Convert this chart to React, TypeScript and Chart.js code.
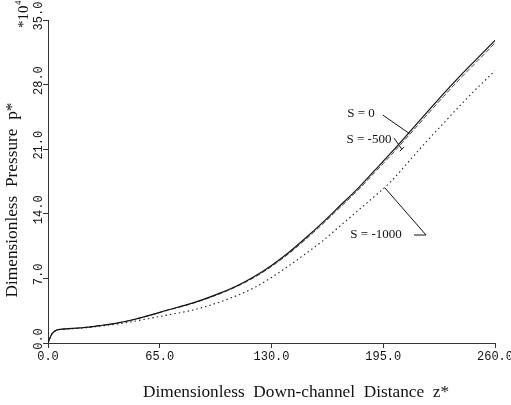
import React, { useEffect, useRef } from "react";
import { Chart, registerables } from "chart.js";
Chart.register(...registerables);

// Down-channel distance z* (x values)
const zValues = [0, 2, 4, 6, 10, 20, 30, 40, 50, 60, 70, 80, 90, 100, 110, 120, 130, 140, 150, 160, 170, 180, 190, 200, 210, 220, 230, 240, 250, 260];
// Pressure p* (x10^4) for S = 0
const pS0 = [0, 0.9, 1.3, 1.45, 1.52, 1.65, 1.88, 2.15, 2.55, 3.05, 3.6, 4.1, 4.7, 5.4, 6.2, 7.2, 8.4, 9.8, 11.4, 13.1, 14.9, 16.7, 18.7, 20.7, 22.8, 24.9, 27.0, 29.0, 30.9, 32.8];
// Pressure p* for S = -500
const pS500 = [0, 0.9, 1.3, 1.45, 1.52, 1.65, 1.88, 2.15, 2.54, 3.03, 3.57, 4.06, 4.65, 5.34, 6.13, 7.11, 8.29, 9.67, 11.25, 12.93, 14.71, 16.5, 18.47, 20.45, 22.53, 24.62, 26.7, 28.7, 30.6, 32.5];
// Pressure p* for S = -1000
const pS1000 = [0, 0.9, 1.3, 1.45, 1.5, 1.62, 1.82, 2.05, 2.35, 2.7, 3.05, 3.4, 3.85, 4.45, 5.15, 6.0, 7.1, 8.35, 9.7, 11.1, 12.7, 14.3, 15.9, 17.6, 19.7, 21.8, 23.8, 25.8, 27.7, 29.5];

const seriesLabels = ["S = 0", "S = -500", "S = -1000"];
const xTickValues = [0, 65, 130, 195, 260];
const xTickLabels = ["0.0", "65.0", "130.0", "195.0", "260.0"];
const yTickValues = [0, 7, 14, 21, 28, 35];
const yTickLabels = ["0.0", "7.0", "14.0", "21.0", "28.0", "35.0"];
const xTitle = "Dimensionless  Down-channel  Distance  z*";
const yTitle = "Dimensionless  Pressure  p*";

// annotation placement (data units)
const labelAnchors = [
  { x: 182.1, y: 24.9 },
  { x: 186.7, y: 22.0 },
  { x: 190.8, y: 11.7 },
];
const leaderLines = [
  [{ x: 194.7, y: 24.7 }, { x: 210.2, y: 22.7 }],
  [{ x: 201.3, y: 22.2 }, { x: 205.8, y: 21.0 }],
  [{ x: 196.0, y: 16.8 }, { x: 219.9, y: 11.7 }],
  [{ x: 212.9, y: 11.7 }, { x: 219.9, y: 11.7 }],
];

const textPlugin = {
  id: "textPlugin",
  afterDraw(chart: any) {
    const { ctx, scales } = chart;
    const xs = scales.x;
    const ys = scales.y;
    ctx.save();
    ctx.fillStyle = "#111";
    ctx.strokeStyle = "#111";

    // x tick labels
    ctx.font = "12px 'Liberation Mono'";
    ctx.textAlign = "center";
    ctx.textBaseline = "middle";
    xTickValues.forEach((v, i) => {
      ctx.fillText(xTickLabels[i], xs.getPixelForValue(v), 357);
    });

    // y tick labels (rotated)
    ctx.font = "12px 'Liberation Mono'";
    yTickValues.forEach((v, i) => {
      ctx.save();
      ctx.translate(42, ys.getPixelForValue(v) - 4);
      ctx.rotate(-Math.PI / 2);
      ctx.textAlign = "center";
      ctx.textBaseline = "alphabetic";
      ctx.fillText(yTickLabels[i], 0, 0);
      ctx.restore();
    });

    // *10^4 multiplier
    ctx.save();
    ctx.translate(28, 28);
    ctx.rotate(-Math.PI / 2);
    ctx.textAlign = "left";
    ctx.textBaseline = "alphabetic";
    ctx.font = "15px 'Liberation Serif'";
    ctx.fillText("*10", 0, 0);
    const w = ctx.measureText("*10").width;
    ctx.font = "9px 'Liberation Serif'";
    ctx.fillText("4", w + 0.5, -7);
    ctx.restore();

    // axis titles
    ctx.font = "17.3px 'Liberation Serif'";
    ctx.textAlign = "center";
    ctx.textBaseline = "alphabetic";
    ctx.fillText(xTitle, 296, 397);
    ctx.save();
    ctx.translate(17, 200);
    ctx.rotate(-Math.PI / 2);
    ctx.fillText(yTitle, 0, 0);
    ctx.restore();

    // series labels
    ctx.font = "13px 'Liberation Serif'";
    ctx.textAlign = "center";
    ctx.textBaseline = "middle";
    labelAnchors.forEach((a, i) => {
      ctx.fillText(seriesLabels[i], xs.getPixelForValue(a.x), ys.getPixelForValue(a.y));
    });
    ctx.lineWidth = 1;
    leaderLines.forEach((seg) => {
      ctx.beginPath();
      ctx.moveTo(xs.getPixelForValue(seg[0].x), ys.getPixelForValue(seg[0].y));
      ctx.lineTo(xs.getPixelForValue(seg[1].x), ys.getPixelForValue(seg[1].y));
      ctx.stroke();
    });
    // small cross at end of S = -500 pointer
    const cx = xs.getPixelForValue(leaderLines[1][1].x);
    const cy = ys.getPixelForValue(leaderLines[1][1].y);
    ctx.beginPath();
    ctx.moveTo(cx - 2, cy + 2);
    ctx.lineTo(cx + 2, cy - 2);
    ctx.stroke();
    ctx.restore();
  },
};

export default function App() {
  const ref = useRef<HTMLCanvasElement | null>(null);
  useEffect(() => {
    if (!ref.current) return;
    const mk = (vals: number[]) => zValues.map((x, i) => ({ x, y: vals[i] }));
    const chart = new Chart(ref.current, {
      type: "line",
      data: {
        datasets: [
          { label: seriesLabels[0], data: mk(pS0), borderColor: "#111", borderWidth: 1.2 },
          { label: seriesLabels[1], data: mk(pS500), borderColor: "#333", borderWidth: 0.9, borderDash: [5, 2] },
          { label: seriesLabels[2], data: mk(pS1000), borderColor: "#222", borderWidth: 1.1, borderDash: [1.5, 3] },
        ],
      },
      options: {
        animation: false,
        responsive: false,
        maintainAspectRatio: false,
        layout: { padding: { top: 20, right: 16, left: 0, bottom: 0 } },
        plugins: { legend: { display: false }, tooltip: { enabled: false } },
        elements: { point: { radius: 0 }, line: { cubicInterpolationMode: "monotone", fill: false } },
        scales: {
          x: {
            type: "linear",
            min: 0,
            max: 260,
            ticks: { display: false, stepSize: 65 },
            grid: { drawOnChartArea: false, tickLength: 5, color: "#333" },
            border: { color: "#333", width: 1 },
            afterFit: (s: any) => { s.height = 62; },
          },
          y: {
            type: "linear",
            min: 0,
            max: 35,
            ticks: { display: false, stepSize: 7 },
            grid: { drawOnChartArea: false, tickLength: 5, color: "#333" },
            border: { color: "#333", width: 1 },
            afterFit: (s: any) => { s.width = 48; },
          },
        },
      } as any,
      plugins: [textPlugin],
    });
    return () => chart.destroy();
  }, []);
  return (
    <div style={{ position: "absolute", left: 0, top: 0, width: 511, height: 405, background: "#fff" }}>
      <canvas ref={ref} width={511} height={405} style={{ width: 511, height: 405 }} />
    </div>
  );
}
